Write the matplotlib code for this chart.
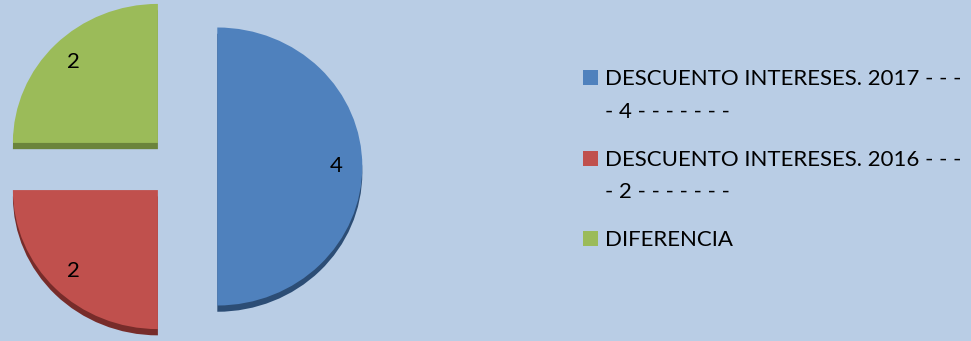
import numpy as np
import matplotlib.pyplot as plt
from matplotlib.patches import Rectangle

# andmed
kategooriad = ["DESCUENTO INTERESES. 2017 - - -\n- 4 - - - - - - -",
               "DESCUENTO INTERESES. 2016 - - -\n- 2 - - - - - - -",
               "DIFERENCIA"]
vaartused = [4, 2, 2]
varvid = ["#4F81BD", "#C0504D", "#9BBB59"]
varjud = ["#2C4D75", "#772C2A", "#6B843C"]

W, H = 971, 341
taust = "#B9CDE5"
plt.rcParams["font.family"] = ["Lato", "DejaVu Sans"]


def px(x, y):
    return x / W, 1 - y / H


fig = plt.figure(figsize=(W / 100, H / 100), dpi=100, facecolor=taust)
ax = fig.add_axes([0, 0, 1, 1])
ax.set_facecolor(taust)

kokku = sum(vaartused)
valja = [0.24, 0.24, 0.24]

# "3D" külg - sama pirukas veidi allapoole nihutatud
ax.pie(vaartused, explode=valja, colors=varjud, startangle=90, counterclock=False,
       center=(0, -0.045), wedgeprops=dict(linewidth=0))
ax.pie(vaartused, explode=valja, colors=varvid, startangle=90, counterclock=False,
       autopct=lambda p: f"{p * kokku / 100:.0f}", pctdistance=0.82,
       textprops=dict(fontsize=16, color="black"),
       wedgeprops=dict(linewidth=0))

# telg pikslitesse: keskpunkt (182.5, 166.5), raadius 145 x 139 px
cx, cy, rx, ry = 182.5, 166.5, 145, 139
ax.set_aspect("auto")
ax.set_xlim(-cx / rx, (W - cx) / rx)
ax.set_ylim((cy - H) / ry, cy / ry)
ax.axis("off")

# legend käsitsi
y = 85
for nimi, v in zip(kategooriad, varvid):
    fig.patches.append(Rectangle(px(583, y), 15 / W, 15 / H, transform=fig.transFigure,
                                 facecolor=v, edgecolor="none"))
    read = nimi.split("\n")
    for i, rida in enumerate(read):
        x0, y0 = px(605, y + i * 32.5)
        fig.text(x0, y0, rida, fontsize=16, va="baseline", ha="left", color="black")
    y += 32.5 * (len(read) - 1) + 80.5 - 32.5

fig.savefig("out.png", dpi=100, facecolor=taust)
